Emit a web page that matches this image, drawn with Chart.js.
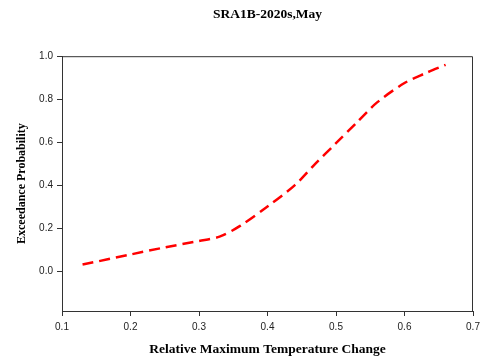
<!DOCTYPE html>
<html><head><meta charset="utf-8">
<script src="https://cdn.jsdelivr.net/npm/chart.js@4"></script>
<style>html,body{margin:0;padding:0;background:#fff}#wrap{width:481px;height:358px}</style>
</head><body><div id="wrap"><canvas id="c" width="481" height="358"></canvas></div>
<script>
const xValues = [0.13, 0.2, 0.25, 0.3, 0.33, 0.36, 0.4, 0.44, 0.47, 0.5, 0.53, 0.56, 0.6, 0.63, 0.66];
const yValues = [0.03, 0.077, 0.11, 0.14, 0.16, 0.21, 0.30, 0.40, 0.50, 0.595, 0.69, 0.785, 0.875, 0.92, 0.96];
const yTicks = [0.0, 0.2, 0.4, 0.6, 0.8, 1.0];
const xTicks = [0.1, 0.2, 0.3, 0.4, 0.5, 0.6, 0.7];
const titleText = 'SRA1B-2020s,May';
const xTitle = 'Relative Maximum Temperature Change';
const yTitle = 'Exceedance Probability';

const pts = xValues.map((x, i) => ({x: x, y: yValues[i]}));
const frame = {
  id: 'frame',
  afterDraw(chart) {
    const a = chart.chartArea, ctx = chart.ctx;
    ctx.save();
    ctx.strokeStyle = '#333';
    ctx.lineWidth = 1;
    ctx.beginPath();
    ctx.moveTo(a.left, a.top + 0.5);
    ctx.lineTo(a.right - 0.5, a.top + 0.5);
    ctx.lineTo(a.right - 0.5, a.bottom);
    ctx.stroke();
    ctx.restore();
  }
};
new Chart(document.getElementById('c'), {
  type: 'scatter',
  data: { datasets: [{
    data: pts, showLine: true, borderColor: '#ff0000', borderWidth: 2.5,
    borderDash: [11, 6], pointRadius: 0, tension: 0.3, fill: false
  }]},
  options: {
    responsive: false, animation: false,
    layout: { padding: { left: 0, right: 0, top: 0, bottom: 0 } },
    plugins: {
      legend: { display: false }, tooltip: { enabled: false },
      title: { display: true, text: titleText, fullSize: false, color: '#000',
        font: { family: 'Liberation Serif', size: 13.5, weight: 'bold' },
        padding: { top: 6, bottom: 34 } }
    },
    scales: {
      x: {
        type: 'linear', min: 0.1, max: 0.7,
        afterBuildTicks(s) { s.ticks = xTicks.map(v => ({value: v})); },
        afterFit(s) { s.height = 47; s.paddingRight = 8; },
        ticks: { color: '#222', font: { family: 'Liberation Sans', size: 10 }, padding: 5,
          callback: v => v.toFixed(1), maxRotation: 0 },
        grid: { drawOnChartArea: false, drawTicks: true, tickLength: 5, color: '#333' },
        border: { display: true, color: '#333', width: 1 },
        title: { display: true, text: xTitle, color: '#000',
          font: { family: 'Liberation Serif', size: 13.5, weight: 'bold' }, padding: { top: 4, bottom: 0 } }
      },
      y: {
        type: 'linear', min: -0.186, max: 1.0,
        afterBuildTicks(s) { s.ticks = yTicks.map(v => ({value: v})); },
        afterFit(s) { s.width = 62; },
        ticks: { color: '#222', font: { family: 'Liberation Sans', size: 10 }, padding: 4,
          callback: v => v.toFixed(1) },
        grid: { drawOnChartArea: false, drawTicks: true, tickLength: 5, color: '#333' },
        border: { display: true, color: '#333', width: 1 },
        title: { display: true, text: yTitle, color: '#000',
          font: { family: 'Liberation Serif', size: 12, weight: 'bold' }, padding: { top: 15, bottom: 4 } }
      }
    }
  },
  plugins: [frame]
});
</script></body></html>
